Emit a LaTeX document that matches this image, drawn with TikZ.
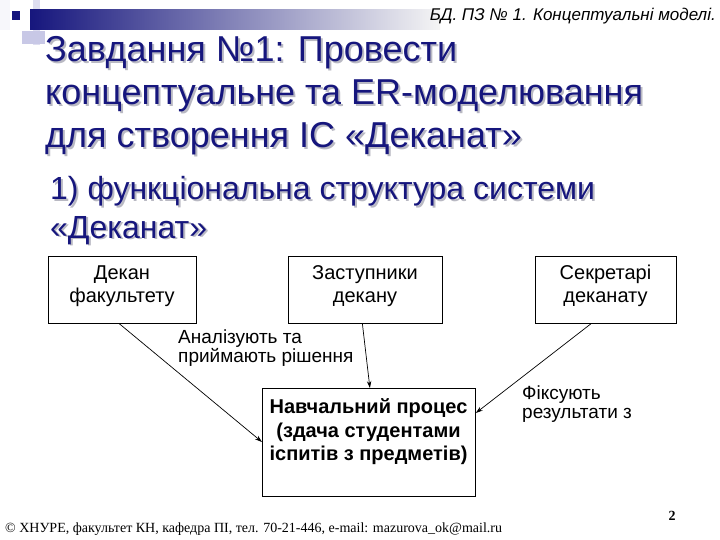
\documentclass[tikz,border=0pt]{standalone}
\usepackage{fontspec}
\setmainfont{Liberation Sans}
\newfontfamily\footserif{Liberation Serif}
\usetikzlibrary{arrows.meta,calc}
\definecolor{navy}{RGB}{22,22,125}
\definecolor{lav}{RGB}{200,200,230}
\definecolor{shadowgray}{RGB}{185,185,195}
\begin{document}
\begin{tikzpicture}[x=1pt,y=-1pt,
  box/.style={draw, line width=0.8pt, inner sep=0pt, rectangle},
  boxtext/.style={font=\fontsize{20}{23}\selectfont, align=center, inner sep=0pt},
  lbl/.style={font=\fontsize{19}{19}\selectfont, align=left, inner sep=0pt, anchor=base west},
  arr/.style={-{Stealth[length=7pt,width=4.5pt]}, line width=0.7pt},
  ttl/.style={font=\fontsize{36}{40}\selectfont, text=navy, inner sep=0pt, anchor=base west},
  ttlsh/.style={font=\fontsize{36}{40}\selectfont, text=shadowgray, inner sep=0pt, anchor=base west},
  sub/.style={font=\fontsize{32}{34}\selectfont, text=navy, inner sep=0pt, anchor=base west},
  subsh/.style={font=\fontsize{32}{34}\selectfont, text=shadowgray, inner sep=0pt, anchor=base west}]
\useasboundingbox (0,0) rectangle (720,540);
\fill[white] (0,0) rectangle (720,540);
% header decoration
\fill[lav!60] (33,0) rectangle (40,45);
\fill[lav] (22,31) rectangle (45,44);
\shade[left color=navy, right color=white!92!gray] (30,10) rectangle (440,30);
\fill[white!85!lav] (0,0) rectangle (10,30);
\fill[navy] (12,11) rectangle (20,20);
\node[font=\fontsize{17}{20}\selectfont\itshape, anchor=base east, inner sep=0pt] (hdr) at (716,21) {БД. ПЗ № 1. Концептуальні моделі.};
% title
\node[ttlsh] (t1s) at (47,64) {Завдання №1: Провести};
\node[ttlsh] (t2s) at (47,107) {концептуальне та ER-моделювання};
\node[ttlsh] (t3s) at (47,150) {для створення ІС «Деканат»};
\node[ttl] (t1) at (45,62) {Завдання №1: Провести};
\node[ttl] (t2) at (45,105) {концептуальне та ER-моделювання};
\node[ttl] (t3) at (45,148) {для створення ІС «Деканат»};
% subtitle
\node[subsh] (s1s) at (52,202) {1) функціональна структура системи};
\node[subsh] (s2s) at (52,240) {«Деканат»};
\node[sub] (s1) at (50,200) {1) функціональна структура системи};
\node[sub] (s2) at (50,238) {«Деканат»};
% boxes
\node[box, minimum width=148pt, minimum height=67pt, anchor=north west] (dekan) at (48,256) {};
\node[boxtext] (dekant) at (122,286) {Декан\\факультету};
\node[box, minimum width=154pt, minimum height=67pt, anchor=north west] (zast) at (288,256) {};
\node[boxtext] (zastt) at (365,286) {Заступники\\декану};
\node[box, minimum width=141pt, minimum height=67pt, anchor=north west] (sec) at (535,256) {};
\node[boxtext] (sect) at (605.5,286) {Секретарі\\деканату};
\node[box, minimum width=213pt, minimum height=108pt, anchor=north west] (proc) at (262,388) {};
\node[boxtext, font=\fontsize{20}{23.5}\selectfont\bfseries] (proct) at (368.5,432) {Навчальний процес\\(здача студентами\\іспитів з предметів)};
% labels
\node[lbl] (l1) at (178,362) {Аналізують та\\приймають рішення};
\node[lbl] (l2) at (522,418) {Фіксують\\результати з};
% arrows
\draw[arr] ([xshift=-3pt]dekan.south) -- ($(proc.north west)+(0,54)$);
\draw[arr] ([xshift=-3pt]zast.south) -- ([xshift=1pt]proc.north);
\draw[arr] ([xshift=-15pt]sec.south) -- ($(proc.north east)+(0,25)$);
% footer
\node[font=\footserif\fontsize{14}{16}\selectfont, anchor=base west, inner sep=0pt] (foot) at (5,532) {© ХНУРЕ, факультет КН, кафедра ПІ, тел. 70-21-446, e-mail: mazurova\_ok@mail.ru};
\node[font=\footserif\fontsize{14}{16}\selectfont\bfseries, anchor=base, inner sep=0pt] (pg) at (672,520) {2};
\end{tikzpicture}
\end{document}
